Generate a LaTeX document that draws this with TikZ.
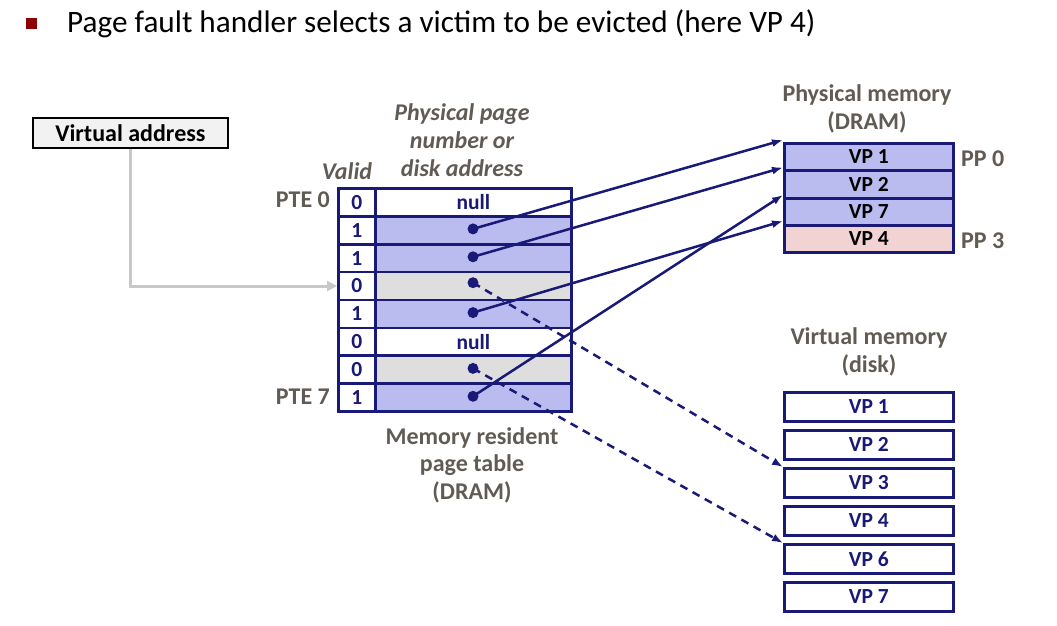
\documentclass[tikz,border=0pt]{standalone}
\usepackage{fontspec}
\setmainfont{Carlito}
\usetikzlibrary{arrows.meta}
\definecolor{navy}{RGB}{25,25,120}
\definecolor{bluef}{RGB}{186,188,240}
\definecolor{grayf}{RGB}{222,222,222}
\definecolor{pinkf}{RGB}{242,211,211}
\definecolor{lbl}{RGB}{96,91,84}
\definecolor{bullet}{RGB}{140,0,0}
\definecolor{vagray}{RGB}{242,242,242}
\definecolor{garrow}{RGB}{200,200,200}
\begin{document}
\begin{tikzpicture}[x=1pt,y=-1pt,
  vcell/.style={draw=navy,line width=2.7pt,minimum width=37pt,minimum height=27.9pt,inner sep=0pt,anchor=north west,font=\fontsize{21.5}{21.5}\selectfont\bfseries,text=navy},
  pcell/.style={draw=navy,line width=2.7pt,minimum width=196pt,minimum height=27.9pt,inner sep=0pt,anchor=north west,font=\fontsize{21.5}{21.5}\selectfont\bfseries,text=navy},
  pmrow/.style={draw=navy,line width=2.7pt,minimum width=169pt,minimum height=27pt,inner sep=0pt,anchor=north west,font=\fontsize{21.5}{21.5}\selectfont\bfseries,text=black},
  diskbox/.style={draw=navy,line width=2.7pt,fill=white,minimum width=169pt,minimum height=29pt,inner sep=0pt,anchor=north west,font=\fontsize{21.5}{21.5}\selectfont\bfseries,text=navy},
  lab/.style={text=lbl,font=\fontsize{24}{27.5}\selectfont\bfseries,align=center,inner sep=0pt},
  ilab/.style={text=lbl,font=\fontsize{24}{28}\selectfont\bfseries\itshape,align=center,inner sep=0pt},
  pdot/.style={circle,fill=navy,inner sep=0pt,minimum size=11pt},
  ptr/.style={draw=navy,line width=2.5pt,-{Latex[length=11pt,width=8pt]}},
  dptr/.style={draw=navy,line width=2.5pt,dash pattern=on 8pt off 6pt,-{Latex[length=11pt,width=8pt]}}
]
\useasboundingbox (0,0) rectangle (1057,626);
% title
\fill[bullet] (26,18) rectangle (37,29);
\node[anchor=base west,inner sep=0pt,font=\fontsize{31.2}{31.2}\selectfont] (title) at (67,33) {Page fault handler selects a victim to be evicted (here VP 4)};
% virtual address
\node[draw=black,fill=vagray,line width=1.8pt,minimum width=195pt,minimum height=30pt,inner sep=0pt,anchor=north west,font=\fontsize{24}{24}\selectfont\bfseries] (va) at (32,117) {Virtual address};
% page table
\foreach \i/\v/\f in {0/0/white,1/1/bluef,2/1/bluef,3/0/grayf,4/1/bluef,5/0/white,6/0/grayf,7/1/bluef}{
  \node[vcell,fill=white] (v\i) at (337,{187+27.9*\i}) {\v};
  \node[pcell,fill=\f] (p\i) at (374,{187+27.9*\i}) {};
}
\node[text=navy,font=\fontsize{21.5}{21.5}\selectfont\bfseries] (n0) at (p0.center) {null};
\node[text=navy,font=\fontsize{21.5}{21.5}\selectfont\bfseries] (n5) at (p5.center) {null};
\foreach \i in {1,2,3,4,6,7}{
  \node[pdot] (d\i) at (473,{187+27.9*\i+14-(\i==3?2:0)}) {};
}
% labels around table
\node[lab,anchor=east] (pte0) at (330,200) {PTE 0};
\node[lab,anchor=east] (pte7) at (330,397) {PTE 7};
\node[ilab] (valid) at (347,171) {Valid};
\node[ilab] (ppn) at (462,140) {Physical page\\number or\\disk address};
\node[lab] (mrpt) at (472,465) {Memory resident\\page table\\(DRAM)};
% physical memory
\node[lab] (pmt) at (867,109) {Physical memory\\(DRAM)};
\node[pmrow,fill=bluef] (pm0) at (783,142) {VP 1};
\node[pmrow,fill=bluef] (pm1) at (783,169.5) {VP 2};
\node[pmrow,fill=bluef] (pm2) at (783,197) {VP 7};
\node[pmrow,fill=pinkf] (pm3) at (783,224) {VP 4};
\node[lab,anchor=west] (pp0) at (961,159) {PP 0};
\node[lab,anchor=west] (pp3) at (961,241) {PP 3};
% virtual memory
\node[lab] (vmt) at (869,352) {Virtual memory\\(disk)};
\foreach \i/\t in {0/VP 1,1/VP 2,2/VP 3,3/VP 4,4/VP 6,5/VP 7}{
  \node[diskbox] (dk\i) at (783,{391+38*\i}) {\t};
}
% connectors
\draw[garrow,line width=3pt,-{Triangle[length=10pt,width=10pt]}] (va.south) |- (v3.west);
\draw[ptr] (d1.center) -- ([yshift=2pt]pm0.north west);
\draw[ptr] (d2.center) -- ([yshift=2pt]pm1.north west);
\draw[ptr] (d7.center) -- ([yshift=2pt]pm2.north west);
\draw[ptr] (d4.center) -- ([yshift=3pt]pm3.north west);
\draw[dptr] (d3.center) -- (dk2.north west);
\draw[dptr] (d6.center) -- (dk4.north west);
\end{tikzpicture}
\end{document}
